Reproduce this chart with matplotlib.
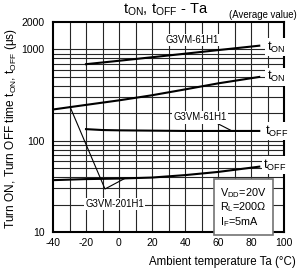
import numpy as np
import matplotlib.pyplot as plt

plt.rcParams['font.family'] = ['Liberation Sans', 'DejaVu Sans']
plt.rcParams['mathtext.fontset'] = 'custom'
plt.rcParams['mathtext.rm'] = 'Liberation Sans'
plt.rcParams['mathtext.it'] = 'Liberation Sans'

# values
t_61_on = [-20, 0, 20, 40, 60, 85]
ton_61 = [690, 752, 822, 899, 984, 1100]
t_201_on = [-40, -20, 0, 20, 40, 60, 85]
ton_201 = [220, 247, 277, 315, 365, 425, 500]
t_61_off = [-20, -10, 0, 20, 40, 60, 85]
toff_61 = [134, 131, 130, 129, 128, 128, 128]
t_201_off = [-40, -20, 0, 20, 40, 60, 85]
toff_201 = [37, 38, 38.5, 39.5, 42, 45.5, 52]

# leader lines
lead_201_x = [-29.7, -8.5, 3.6]
lead_201_y = [236, 29.6, 38.7]
lead_61_x = [53.3, 68.5]
lead_61_y = [177, 128]

xticks = [-40, -20, 0, 20, 40, 60, 80, 100]
yticks = [10, 100, 1000, 2000]

fig = plt.figure(figsize=(2.99, 2.71), dpi=100)
ax = fig.add_axes([53/299, 39/271, 231/299, 210/271])
ax.set_yscale('log')
ax.set_xlim(-40, 100)
ax.set_ylim(10, 2000)

# grid
for x in range(-30, 100, 10):
    ax.axvline(x, color='0.15', lw=0.8, zorder=1)
for d in [10, 100, 1000]:
    for m in range(1, 10):
        v = d * m
        if 10 < v < 2000:
            ax.axhline(v, color='0.15', lw=0.8, zorder=1)

ax.plot(t_61_on, ton_61, color='black', lw=1.5, zorder=3)
ax.plot(t_201_on, ton_201, color='black', lw=1.5, zorder=3)
ax.plot(t_61_off, toff_61, color='black', lw=1.5, zorder=3)
ax.plot(t_201_off, toff_201, color='black', lw=1.5, zorder=3)
ax.plot(lead_201_x, lead_201_y, color='black', lw=0.8, zorder=3)
ax.plot(lead_61_x, lead_61_y, color='black', lw=0.8, zorder=3)

box = dict(facecolor='white', edgecolor='none', pad=1.0)
fs = 6.9
ax.text(28, 1270, 'G3VM-61H1', fontsize=fs, ha='left', va='center', bbox=box, zorder=4)
ax.text(33, 180, 'G3VM-61H1', fontsize=fs, ha='left', va='center', bbox=box, zorder=4)
ax.text(-20.5, 20.2, 'G3VM-201H1', fontsize=fs, ha='left', va='center', bbox=box, zorder=4)

lab = dict(fontsize=9.3, ha='left', va='center', bbox=box, zorder=4, clip_on=False)
ax.text(89.5, 1060, r't$_{\mathrm{ON}}$', **lab)
ax.text(89.5, 500, r't$_{\mathrm{ON}}$', **lab)
ax.text(88.5, 128, r't$_{\mathrm{OFF}}$', **lab)
ax.text(87.5, 54, r't$_{\mathrm{OFF}}$', **lab)

ax.text(61.2, 18.6, 'V$_{\\mathrm{DD}}$=20V\nR$_{\\mathrm{L}}$=200\u03a9\nI$_{\\mathrm{F}}$=5mA',
        fontsize=7.8, ha='left', va='center', linespacing=1.1, zorder=5,
        bbox=dict(facecolor='white', edgecolor='0.45', lw=1.2, pad=4.5))

ax.set_xticks(xticks)
ax.set_xticklabels([str(t) for t in xticks])
ax.set_yticks(yticks)
ax.set_yticklabels([str(t) for t in yticks])
ax.yaxis.set_minor_locator(plt.NullLocator())
ax.tick_params(length=0, labelsize=7.5)
ax.tick_params(axis='x', pad=4)
ax.tick_params(axis='y', pad=6)
for s in ax.spines.values():
    s.set_linewidth(1.5)

fig.text(296/299, 1 - 262/271, 'Ambient temperature Ta (\u00b0C)', fontsize=8.3, ha='right', va='center')
fig.text(11/299, 1 - 128/271, r'Turn ON, Turn OFF time t$_{\mathrm{ON}}$, t$_{\mathrm{OFF}}$ ($\mathrm{\mu}$s)',
         fontsize=8.6, rotation=90, ha='center', va='center')
fig.text(166/299, 1 - 10/271, r't$_{\mathrm{ON}}$, t$_{\mathrm{OFF}}$ - Ta', fontsize=10.5, ha='center', va='center')
fig.text(297/299, 1 - 15/271, '(Average value)', fontsize=6.9, ha='right', va='center')

fig.savefig('out.png', dpi=100)
